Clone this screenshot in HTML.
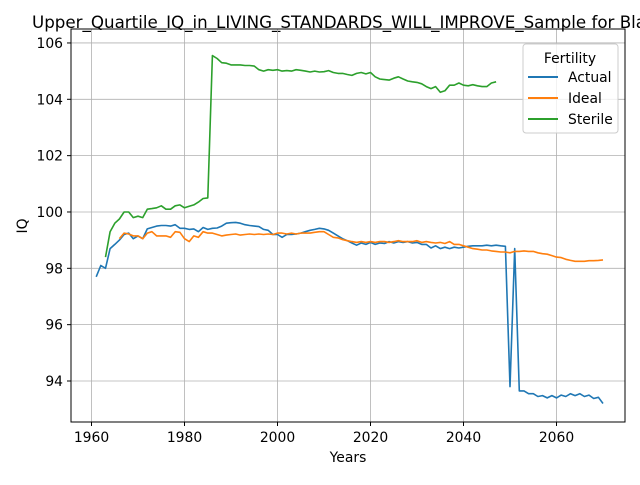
<!DOCTYPE html>
<html><head><meta charset="utf-8"><style>
body{margin:0;background:#fff;}
svg text{font-family:"DejaVu Sans","Liberation Sans",sans-serif;}
</style></head><body>
<svg id="chart" width="640" height="480" xmlns="http://www.w3.org/2000/svg">
<rect width="640" height="480" fill="#fff"/>
<text x="32" y="28" font-size="16.7" fill="#000">Upper_Quartile_IQ_in_LIVING_STANDARDS_WILL_IMPROVE_Sample for Black</text>
<g id="grid"></g>
<g id="series"></g>
<rect x="71" y="29" width="554" height="393" fill="none" stroke="#000" stroke-width="1"/>
<g id="ticks"></g>
<text x="348" y="462" font-size="13.9" text-anchor="middle">Years</text>
<text x="27" y="226" font-size="13.9" text-anchor="middle" transform="rotate(-90 27 226)">IQ</text>
<g>
<rect x="523" y="44" width="95" height="89" rx="3" fill="#fff" fill-opacity="0.8" stroke="#ccc"/>
<text x="570" y="63" font-size="13.9" text-anchor="middle">Fertility</text>
<line x1="528" y1="77" x2="558" y2="77" stroke="#1f77b4" stroke-width="2"/>
<text x="568" y="82" font-size="13.9">Actual</text>
<line x1="528" y1="98" x2="558" y2="98" stroke="#ff7f0e" stroke-width="2"/>
<text x="568" y="103" font-size="13.9">Ideal</text>
<line x1="528" y1="119" x2="558" y2="119" stroke="#2ca02c" stroke-width="2"/>
<text x="568" y="124" font-size="13.9">Sterile</text>
</g>
</svg>
<script>
const xTicks=[1960,1980,2000,2020,2040,2060];
const yTicks=[94,96,98,100,102,104,106];
const actualStart=1961;
const actual=[97.7,98.1,98.0,98.7,98.85,99.0,99.2,99.25,99.05,99.15,99.05,99.4,99.45,99.5,99.52,99.52,99.5,99.55,99.42,99.42,99.38,99.4,99.3,99.45,99.38,99.42,99.43,99.5,99.6,99.62,99.63,99.6,99.55,99.52,99.5,99.48,99.38,99.35,99.2,99.2,99.1,99.2,99.2,99.22,99.25,99.3,99.35,99.38,99.42,99.4,99.35,99.25,99.15,99.05,98.98,98.9,98.82,98.9,98.85,98.92,98.85,98.9,98.88,98.95,98.9,98.95,98.92,98.95,98.9,98.92,98.85,98.85,98.72,98.8,98.7,98.75,98.7,98.75,98.72,98.75,98.78,98.8,98.8,98.8,98.82,98.8,98.82,98.8,98.78,93.8,98.7,93.65,93.65,93.55,93.55,93.45,93.48,93.4,93.48,93.4,93.5,93.45,93.55,93.48,93.55,93.45,93.5,93.38,93.42,93.2];
const idealStart=1966;
const ideal=[99.05,99.25,99.22,99.15,99.15,99.05,99.25,99.3,99.15,99.15,99.15,99.1,99.3,99.28,99.05,98.95,99.15,99.1,99.3,99.25,99.25,99.2,99.15,99.18,99.2,99.22,99.18,99.2,99.22,99.2,99.22,99.2,99.22,99.2,99.25,99.25,99.22,99.25,99.22,99.25,99.25,99.25,99.28,99.3,99.3,99.2,99.1,99.08,99.02,98.98,98.95,98.92,98.95,98.92,98.95,98.92,98.95,98.95,98.92,98.95,98.98,98.95,98.95,98.95,98.98,98.92,98.95,98.92,98.9,98.92,98.88,98.95,98.85,98.85,98.8,98.75,98.7,98.68,98.65,98.65,98.62,98.6,98.58,98.58,98.55,98.6,98.6,98.62,98.6,98.6,98.55,98.52,98.5,98.45,98.4,98.38,98.32,98.28,98.25,98.25,98.25,98.27,98.27,98.28,98.3];
const sterileStart=1963;
const sterile=[98.4,99.3,99.6,99.75,100.0,100.0,99.8,99.85,99.8,100.1,100.12,100.15,100.22,100.1,100.1,100.22,100.25,100.15,100.2,100.25,100.35,100.48,100.5,105.55,105.45,105.3,105.28,105.22,105.22,105.22,105.2,105.2,105.18,105.05,105.0,105.05,105.03,105.05,105.0,105.02,105.0,105.05,105.03,105.0,104.97,105.0,104.97,104.98,105.02,104.95,104.92,104.92,104.88,104.85,104.92,104.95,104.9,104.95,104.8,104.72,104.7,104.68,104.75,104.8,104.72,104.65,104.62,104.6,104.55,104.45,104.38,104.45,104.25,104.3,104.5,104.5,104.58,104.5,104.48,104.52,104.48,104.45,104.45,104.58,104.62];
const NS='http://www.w3.org/2000/svg';
const X=v=>91.5+(v-1960)*4.65;
const Y=v=>381-(v-94)*28.17;
function mk(t,a,p){const e=document.createElementNS(NS,t);for(const k in a)e.setAttribute(k,a[k]);p.appendChild(e);return e;}
const grid=document.getElementById('grid'),ticks=document.getElementById('ticks'),ser=document.getElementById('series');
xTicks.forEach(t=>{
 const g=mk('line',{x1:X(t),x2:X(t),y1:29,y2:422,stroke:'#b0b0b0','stroke-width':0.8},grid);
 
 
 mk('line',{x1:X(t),x2:X(t),y1:422,y2:426,stroke:'#000'},ticks);
 const tx=mk('text',{x:X(t),y:442,'font-size':13.9,'text-anchor':'middle'},ticks);tx.textContent=t;
 
 
});
yTicks.forEach(t=>{
 const g=mk('line',{x1:71,x2:625,y1:Y(t),y2:Y(t),stroke:'#b0b0b0','stroke-width':0.8},grid);
 
 
 mk('line',{x1:67,x2:71,y1:Y(t),y2:Y(t),stroke:'#000'},ticks);
 const tx=mk('text',{x:63,y:Y(t)+5,'font-size':13.9,'text-anchor':'end'},ticks);tx.textContent=t;
 
 
});
function line(arr,start,color,name){
 const d=arr.map((v,i)=>(i?'L':'M')+X(start+i).toFixed(1)+' '+Y(v).toFixed(1)).join(' ');
 const p=mk('path',{d:d,fill:'none',stroke:color,'stroke-width':1.6,'stroke-linejoin':'round'},ser);
 
 
}
line(actual,actualStart,'#1f77b4','actual-line');
line(ideal,idealStart,'#ff7f0e','ideal-line');
line(sterile,sterileStart,'#2ca02c','sterile-line');
</script>
</body></html>
